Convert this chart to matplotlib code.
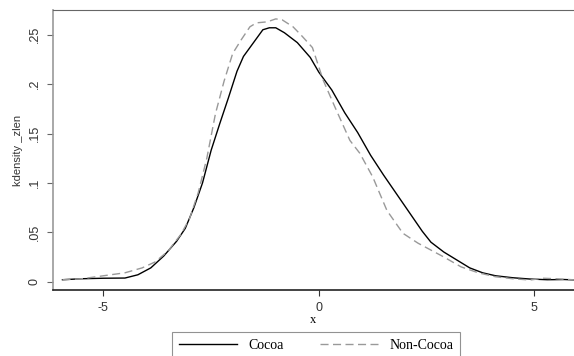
import numpy as np
import matplotlib
matplotlib.use("Agg")
import matplotlib.pyplot as plt

# kernel density estimates
cocoa_x = [-5.95, -5.5, -5.0, -4.5, -4.2, -3.9, -3.6, -3.3, -3.1, -2.9, -2.7, -2.5,
           -2.3, -2.1, -1.9, -1.75, -1.5, -1.3, -1.15, -1.0, -0.8, -0.5, -0.2, 0.0,
           0.3, 0.6, 0.9, 1.2, 1.5, 1.8, 2.1, 2.4, 2.6, 2.9, 3.2, 3.5, 3.8, 4.1,
           4.5, 4.9, 5.3, 5.7, 6.0]
cocoa_y = [0.002, 0.003, 0.0035, 0.0037, 0.007, 0.014, 0.026, 0.041, 0.054, 0.075,
           0.100, 0.133, 0.160, 0.186, 0.213, 0.228, 0.243, 0.255, 0.257, 0.257,
           0.252, 0.242, 0.227, 0.212, 0.194, 0.171, 0.151, 0.128, 0.108, 0.089,
           0.070, 0.051, 0.040, 0.030, 0.022, 0.014, 0.009, 0.006, 0.004, 0.0027,
           0.002, 0.0022, 0.0017]

noncocoa_x = [-5.95, -5.5, -5.0, -4.5, -4.1, -3.8, -3.5, -3.2, -3.0, -2.8, -2.6, -2.4,
              -2.2, -2.0, -1.8, -1.6, -1.45, -1.2, -1.0, -0.85, -0.6, -0.4, -0.15,
              0.1, 0.37, 0.72, 0.95, 1.25, 1.58, 1.95, 2.3, 2.6, 2.9, 3.3, 3.7, 4.1,
              4.5, 4.9, 5.2, 5.5, 6.0]
noncocoa_y = [0.002, 0.003, 0.006, 0.009, 0.014, 0.02, 0.031, 0.048, 0.064, 0.09,
              0.125, 0.17, 0.203, 0.231, 0.245, 0.258, 0.262, 0.263, 0.266, 0.265,
              0.258, 0.249, 0.237, 0.204, 0.177, 0.143, 0.130, 0.106, 0.072, 0.049,
              0.039, 0.032, 0.025, 0.015, 0.009, 0.005, 0.003, 0.0017, 0.0035,
              0.003, 0.0017]

yticks = [0, 0.05, 0.1, 0.15, 0.2, 0.25]
ytick_labels = ["0", ".05", ".1", ".15", ".2", ".25"]
xticks = [-5, 0, 5]
xtick_labels = ["-5", "0", "5"]

fig = plt.figure(figsize=(5.74, 3.56), dpi=100)
ax = fig.add_axes([0.0923, 0.1854, 0.9077, 0.7865])

ax.plot(cocoa_x, cocoa_y, color="black", lw=1.0, label="Cocoa")
ax.plot(noncocoa_x, noncocoa_y, color="#999999", lw=1.0, ls=(0, (5.8, 3.2)),
        label="Non-Cocoa")

ax.set_xlim(-6.17, 5.92)
ax.set_ylim(-0.0084, 0.275)

ax.set_yticks(yticks)
ax.set_yticklabels(ytick_labels, rotation=90, va="center",
                   fontfamily="Liberation Sans", fontsize=9, color="#333333")
ax.set_xticks(xticks)
ax.set_xticklabels(xtick_labels, fontfamily="Liberation Sans", fontsize=9,
                   color="#333333")
ax.tick_params(axis="y", length=4, width=0.8, color="#666666", pad=5)
ax.tick_params(axis="x", length=4, width=0.8, color="#333333", pad=4.5)

ax.set_ylabel("kdensity _zlen", fontfamily="Liberation Sans", fontsize=8,
              color="#333333", labelpad=4)
ax.set_xlabel("x", fontfamily="Liberation Serif", fontsize=9, labelpad=0)

ax.spines["right"].set_visible(False)
ax.spines["top"].set_color("#666666")
ax.spines["left"].set_color("#999999")
ax.spines["left"].set_linewidth(1.2)
ax.spines["bottom"].set_color("#222222")
ax.spines["bottom"].set_linewidth(1.2)

leg = fig.legend(loc="upper left", bbox_to_anchor=(172 / 574, 0.0674), ncol=2,
                 frameon=True, fancybox=False, handlelength=4.2,
                 handletextpad=0.8, columnspacing=2.6, borderpad=0.5,
                 borderaxespad=0,
                 prop={"family": "Liberation Serif", "size": 10})
leg.get_frame().set_edgecolor("#777777")
leg.get_frame().set_linewidth(0.8)

fig.savefig("out.png", dpi=100)
